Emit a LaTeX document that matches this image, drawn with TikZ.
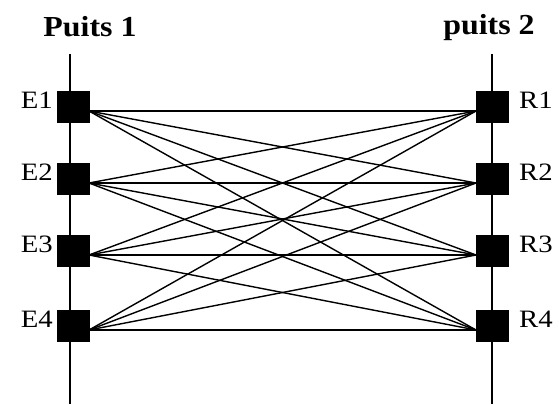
\documentclass[tikz,border=0pt]{standalone}
\usepackage{fontspec}
\setmainfont{Liberation Serif}
\begin{document}
\begin{tikzpicture}[x=1pt,y=-1pt,
  sq/.style={draw=black,fill=black,minimum width=32pt,minimum height=31pt,inner sep=0pt},
  lbl/.style={inner sep=0pt,font=\fontsize{25}{25}\selectfont},
  ttl/.style={inner sep=0pt,font=\fontsize{29}{29}\selectfont\bfseries},
  wire/.style={line width=1.4pt},
  pole/.style={line width=2.8pt}]
\useasboundingbox (0,0) rectangle (559,404);
% poles
\coordinate (Lt) at (70,54); \coordinate (Lb) at (70,404);
\coordinate (Rt) at (492,54); \coordinate (Rb) at (492,404);
\draw[pole] (Lt) -- (Lb);
\draw[pole] (Rt) -- (Rb);
% titles
\node[ttl,anchor=base] (P1) at (90,37) {\scalebox{1.1}[1]{Puits 1}};
\node[ttl,anchor=base] (P2) at (489,35) {\scalebox{1.1}[1]{puits 2}};
% squares, labels, connection points
\foreach \i/\y in {1/107,2/179,3/251,4/326}{
  \node[sq] (sE\i) at (73,\y) {};
  \node[sq] (sR\i) at (492,\y) {};
  \node[lbl,anchor=base east] (lE\i) at (53,\y+1) {\scalebox{1.15}[1]{E\i}};
  \node[lbl,anchor=base west] (lR\i) at (519,\y+1) {\scalebox{1.15}[1]{R\i}};
  \coordinate (oE\i) at (89,\y+4);
  \coordinate (oR\i) at (476,\y+4);
}
% connectors
\foreach \i in {1,2,3,4}{
  \foreach \j in {1,2,3,4}{
    \draw[wire] (oE\i) -- (oR\j);
  }
}
\end{tikzpicture}
\end{document}
